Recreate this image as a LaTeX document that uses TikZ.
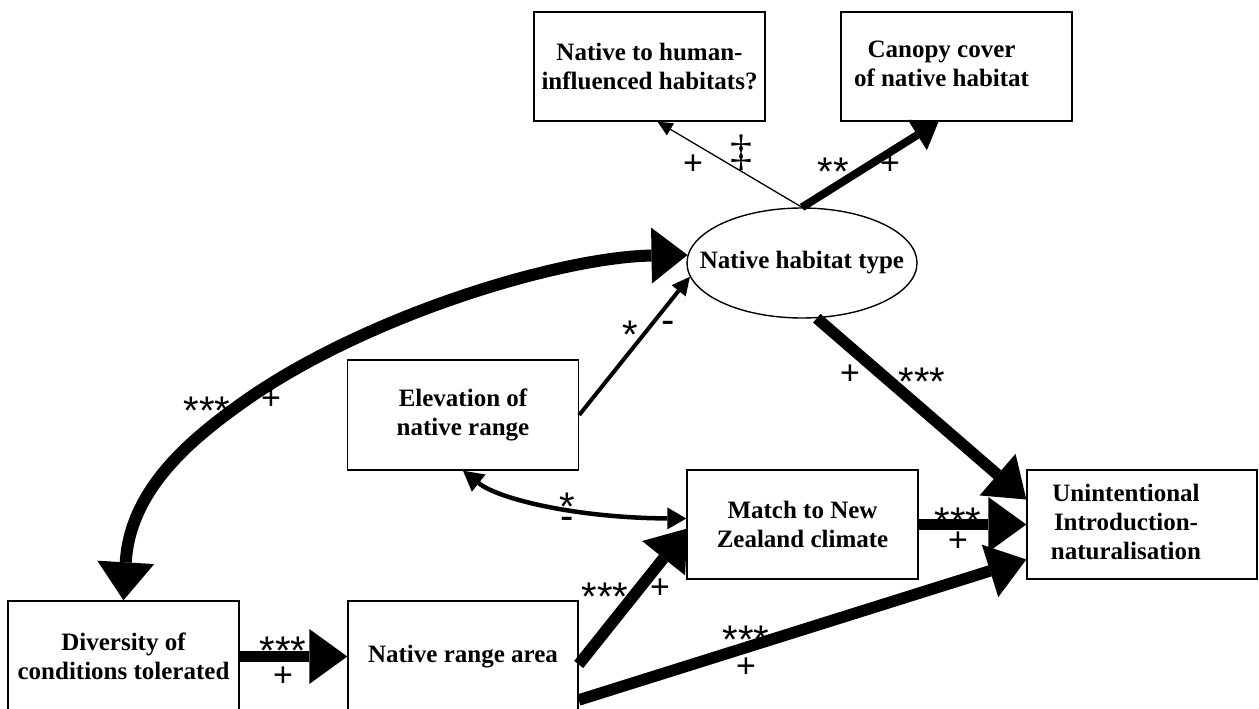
\documentclass[tikz,border=0pt]{standalone}
\usepackage{fontspec}
\setmainfont{Liberation Serif}
\newfontfamily\labfont{Liberation Sans}
\newfontfamily\dagfont{Liberation Serif}
\usetikzlibrary{arrows.meta,shapes.geometric,calc}
\newcommand{\starsf}{\labfont\fontsize{40}{40}\selectfont}
\newcommand{\plusf}{\labfont\fontsize{34}{34}\selectfont}
% one label of two rows: upper text, lower text, drop of lower baseline
\newcommand{\duolab}[3]{\makebox[0pt]{\starsf #1}\raisebox{-#3}{\makebox[0pt]{#2}}}
\tikzset{
  box/.style={draw, line width=1.4pt, rectangle, align=center, inner sep=0pt,
    minimum width=231pt, minimum height=109pt,
    font=\fontsize{25}{29}\selectfont\bfseries},
  boxplain/.style={draw, line width=1.4pt, rectangle, inner sep=0pt,
    minimum width=231pt, minimum height=109pt,
    font=\fontsize{25}{29}\selectfont\bfseries},
  stars/.style={inner sep=0pt, font=\starsf, yshift=-8.7pt},
  plus/.style={inner sep=0pt, font=\plusf, yshift=-2pt},
  minus/.style={inner sep=0pt, font=\starsf, yshift=-4pt},
  duo/.style={inner sep=0pt, anchor=base},
  dag/.style={inner sep=0pt, font=\dagfont\fontsize{44}{44}\selectfont},
  bigarrow/.style={line width=11.5pt, -{Triangle[length=38pt,width=55pt,line width=0pt]}},
  bigcurve/.style={line width=12pt, {Triangle[length=38pt,width=57pt,line width=0pt]}-{Triangle[length=36pt,width=56pt,line width=0pt]}},
  midarrow/.style={line width=8pt, -{Triangle[length=25pt,width=36pt,line width=0pt]}},
  smallarrow/.style={line width=4pt, -{Triangle[length=18pt,width=18pt,line width=0pt]}},
  smallcurve/.style={line width=4.5pt, {Triangle[length=20pt,width=22pt,line width=0pt]}-{Triangle[length=19pt,width=22pt,line width=0pt]}},
  thinarrow/.style={line width=1.3pt, -{Triangle[length=15pt,width=14pt,line width=0pt]}}
}
\begin{document}
\begin{tikzpicture}[x=1pt,y=-1pt]
\clip (0,0) rectangle (1259,709);
\fill[white] (0,0) rectangle (1259,709);

% nodes
\node[box] (hum) at (649.5,66.5) {Native to human-\\influenced habitats?};
\node[boxplain] (can) at (956.5,66.5) {\hspace*{-30pt}\begin{tabular}{@{}c@{}}Canopy cover\\of native habitat\end{tabular}};
\node[draw, ellipse, line width=1.4pt, inner sep=0pt, minimum width=230pt, minimum height=110pt,
  font=\fontsize{25}{29}\selectfont\bfseries] (hab) at (802,263) {\makebox[0pt]{Native habitat type}};
\node[box, minimum height=110pt] (elev) at (463,415) {Elevation of\\native range};
\node[box] (match) at (802.5,524.5) {Match to New\\Zealand climate};
\node[boxplain, minimum width=230pt] (unin) at (1142,524.5) {\hspace*{-32pt}\begin{tabular}{@{}c@{}}Unintentional\\Introduction-\\naturalisation\end{tabular}};
\node[box, minimum height=111pt] (div) at (123.5,656.5) {Diversity of\\conditions tolerated};
\node[box, minimum width=230pt, minimum height=111pt] (nra) at (463,656.5) {Native range area};

% connectors
\draw[thinarrow] (hab.north) -- ($(hum.south)+(8,0)$);
\draw[midarrow] (hab.north) -- ($(can.south)+(-18,0)$);
\draw[bigcurve] (div.north) .. controls (130,490) and (190,440) .. (242,403)
  .. controls (364,316) and (560,257) .. (hab.176);
\draw[smallarrow] (elev.east) -- (hab.187);
\draw[smallcurve] (elev.south) .. controls (500,500) and (580,518) .. ($(match.west)+(0,-6)$);
\draw[bigarrow] (div.east) -- (nra.west);
\draw[bigarrow] ($(nra.east)+(0,8)$) -- ($(match.west)+(1,4)$);
\draw[bigarrow] ($(nra.east)+(0,43.5)$) -- ($(unin.west)+(0,35)$);
\draw[bigarrow] (match.east) -- (unin.west);
\draw[bigarrow] (hab.-75) -- ($(unin.west)+(0,-25)$);

% labels
\node[plus] (l1) at (693,163) {+};
\node[dag] (l2) at (741,153) {‡};
\node[stars] (l3) at (833,163) {**};
\node[plus] (l4) at (890,163) {+};
\node[stars] (l5) at (207,402) {***};
\node[plus] (l6) at (271,398) {+};
\node[stars] (l7) at (630,326) {*};
\node[minus] (l8) at (668,323) {-};
\node[plus] (l9) at (850,373) {+};
\node[stars] (l10) at (922,373) {***};
\node[duo] (l11) at (567,520) {\duolab{*}{\starsf -}{9.2pt}};
\node[duo] (l13) at (958,535) {\duolab{***}{\plusf +}{16pt}};
\node[stars] (l15) at (605,588) {***};
\node[plus] (l16) at (660,587) {+};
\node[duo] (l17) at (283,664) {\duolab{***}{\plusf +}{22pt}};
\node[duo] (l19) at (746,653) {\duolab{***}{\plusf +}{24pt}};
\end{tikzpicture}
\end{document}
